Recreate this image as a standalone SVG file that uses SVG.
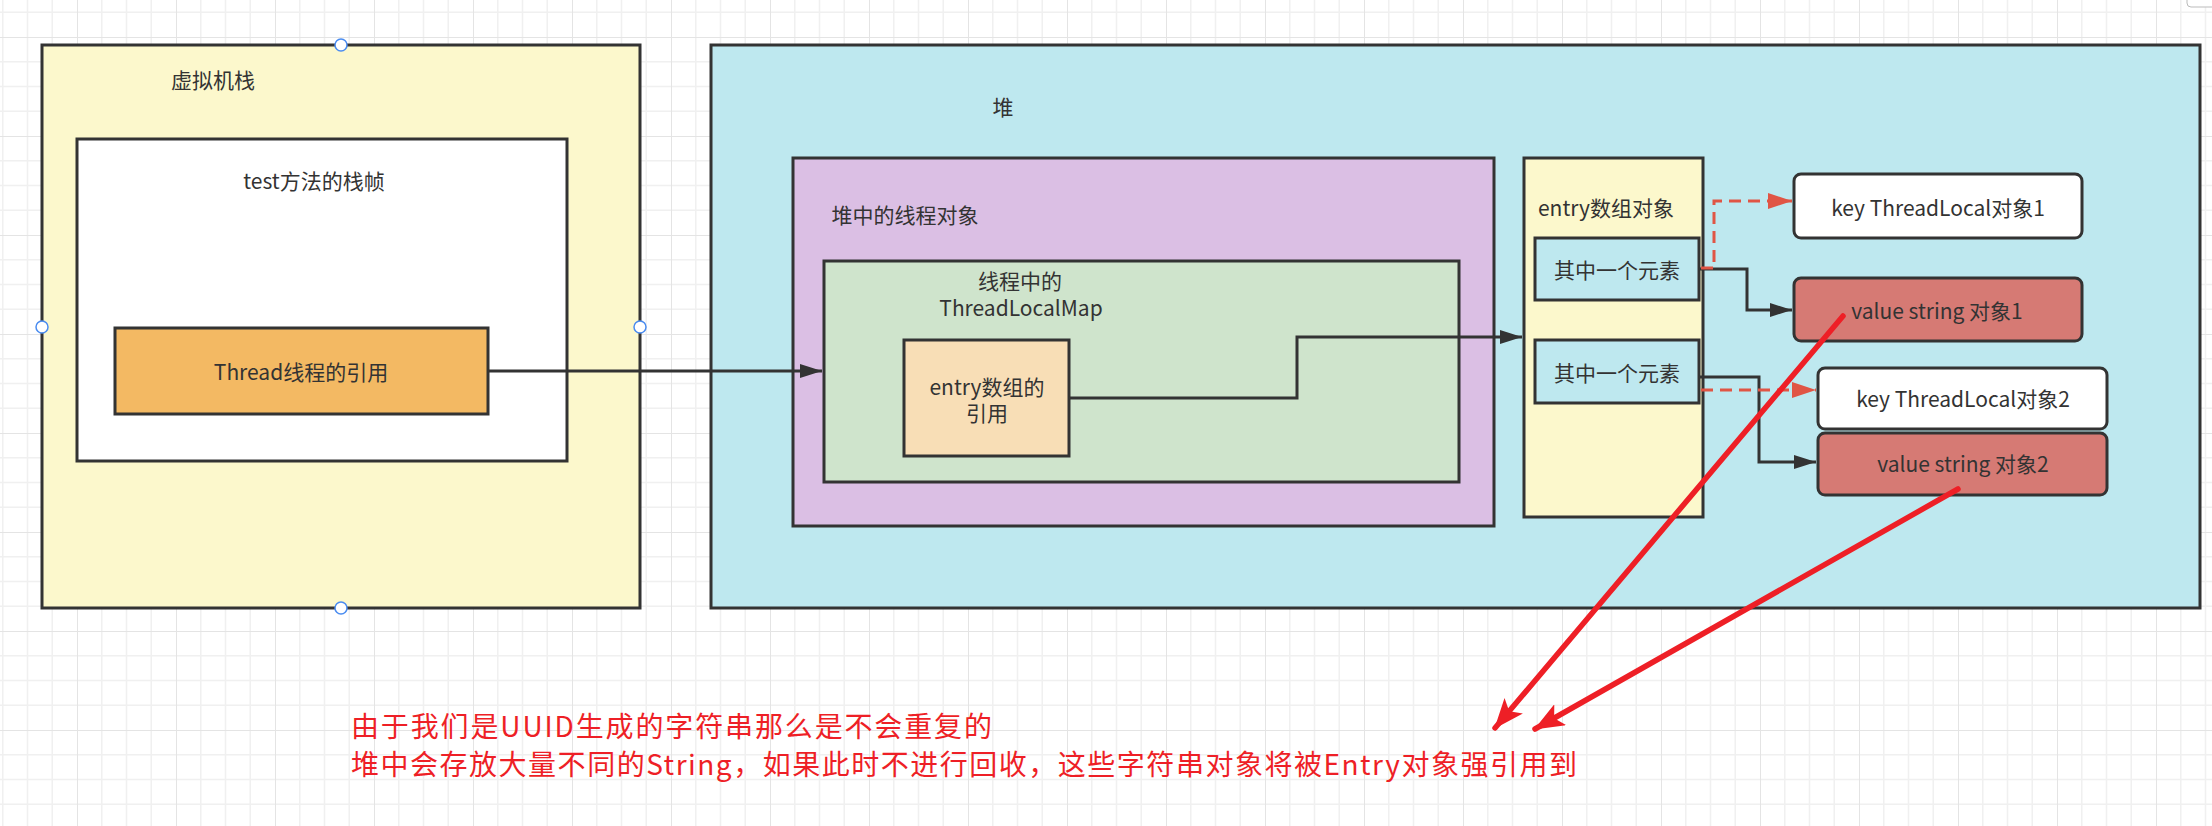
<svg xmlns="http://www.w3.org/2000/svg" width="2212" height="826" viewBox="0 0 2212 826">
<style>
  .box { stroke: #333333; stroke-width: 3; }
  .lbl { font-family: "Noto Sans CJK SC", "Noto Sans", sans-serif; font-size: 21px; fill: #333333; text-anchor: middle; dominant-baseline: central; }
  .conn { fill: none; stroke: #333333; stroke-width: 3; }
  .dash { fill: none; stroke: #e05545; stroke-width: 3; stroke-dasharray: 12 7; }
  .red { fill: none; stroke: #ee1f26; stroke-width: 5.5; stroke-linecap: round; }
  .note { font-family: "Noto Sans CJK SC", sans-serif; font-size: 28px; fill: #ee1f26; dominant-baseline: central; }
  .handle { fill: #ffffff; stroke: #4a8cf0; stroke-width: 1.5; }
</style>
<defs>
  <pattern id="grid" patternUnits="userSpaceOnUse" x="77" y="37" width="99" height="99">
    <rect x="0" y="0" width="99" height="99" fill="#ffffff"/>
    <path d="M24.75 0V99M49.5 0V99M74.25 0V99M0 24.75H99M0 49.5H99M0 74.25H99" stroke="#f0f0f0" stroke-width="1.5" fill="none"/>
    <path d="M0 0V99M0 0H99" stroke="#e4e4e4" stroke-width="2" fill="none"/>
  </pattern>
  <marker id="arrBlack" viewBox="0 0 22 14" refX="22" refY="7" markerWidth="22" markerHeight="14" markerUnits="userSpaceOnUse" orient="auto">
    <path d="M0 0L22 7L0 14z" fill="#333333"/>
  </marker>
  <marker id="arrDash" viewBox="0 0 24 16" refX="24" refY="8" markerWidth="24" markerHeight="16" markerUnits="userSpaceOnUse" orient="auto">
    <path d="M0 0L24 8L0 16z" fill="#e05545"/>
  </marker>
  <marker id="arrRed" viewBox="0 0 30 24" refX="29" refY="12" markerWidth="30" markerHeight="24" markerUnits="userSpaceOnUse" orient="auto">
    <path d="M0 0L30 12L0 24L7 12z" fill="#ee1f26"/>
  </marker>
</defs>

<rect x="0" y="0" width="2212" height="826" fill="url(#grid)"/>
<rect x="2187" y="-10" width="40" height="17" rx="4" fill="#ffffff" stroke="#bbbbbb" stroke-width="1"/>

<g id="vm-stack">
  <rect class="box" x="42" y="45" width="598" height="563" fill="#fcf8cc"/>
  <text class="lbl" x="213" y="79">虚拟机栈</text>
</g>
<g id="stack-frame">
  <rect class="box" x="77" y="139" width="490" height="322" fill="#ffffff"/>
  <text class="lbl" x="314" y="180">test方法的栈帧</text>
</g>
<g id="thread-ref">
  <rect class="box" x="115" y="328" width="373" height="86" fill="#f3b963"/>
  <text class="lbl" x="301" y="371">Thread线程的引用</text>
</g>

<g id="heap">
  <rect class="box" x="711" y="45" width="1489" height="563" fill="#bee8ef"/>
  <text class="lbl" x="1003" y="106">堆</text>
</g>
<g id="thread-object">
  <rect class="box" x="793" y="158" width="701" height="368" fill="#dbbfe4"/>
  <text class="lbl" x="905" y="214">堆中的线程对象</text>
</g>
<g id="threadlocalmap">
  <rect class="box" x="824" y="261" width="635" height="221" fill="#cfe4cc"/>
  <text class="lbl" x="1020" y="280">线程中的</text>
  <text class="lbl" x="1021" y="307">ThreadLocalMap</text>
</g>
<g id="entry-ref">
  <rect class="box" x="904" y="340" width="165" height="116" fill="#f8deb6"/>
  <text class="lbl" x="987" y="386">entry数组的</text>
  <text class="lbl" x="987" y="412">引用</text>
</g>
<g id="entry-array">
  <rect class="box" x="1524" y="158" width="179" height="359" fill="#fcf8cc"/>
  <text class="lbl" x="1606" y="207">entry数组对象</text>
</g>
<g id="element1">
  <rect class="box" x="1535" y="238" width="164" height="62" fill="#bee8ef"/>
  <text class="lbl" x="1617" y="269">其中一个元素</text>
</g>
<g id="element2">
  <rect class="box" x="1535" y="340" width="164" height="63" fill="#bee8ef"/>
  <text class="lbl" x="1617" y="372">其中一个元素</text>
</g>
<g id="key1">
  <rect class="box" x="1794" y="174" width="288" height="64" rx="7" fill="#ffffff"/>
  <text class="lbl" x="1938" y="207">key ThreadLocal对象1</text>
</g>
<g id="value1">
  <rect class="box" x="1794" y="278" width="288" height="63" rx="7" fill="#d67a74"/>
  <text class="lbl" x="1937" y="310">value string 对象1</text>
</g>
<g id="key2">
  <rect class="box" x="1818" y="368" width="289" height="61" rx="7" fill="#ffffff"/>
  <text class="lbl" x="1963" y="398">key ThreadLocal对象2</text>
</g>
<g id="value2">
  <rect class="box" x="1818" y="433" width="289" height="62" rx="7" fill="#d67a74"/>
  <text class="lbl" x="1963" y="463">value string 对象2</text>
</g>

<g id="connectors">
  <path class="conn" d="M488 371H822" marker-end="url(#arrBlack)"/>
  <path class="conn" d="M1069 398H1297V337H1522" marker-end="url(#arrBlack)"/>
  <path class="conn" d="M1699 269H1747V310H1792" marker-end="url(#arrBlack)"/>
  <path class="conn" d="M1699 377H1759V462H1816" marker-end="url(#arrBlack)"/>
  <path class="dash" d="M1701 268H1714V201H1792" marker-end="url(#arrDash)"/>
  <path class="dash" d="M1701 390H1816" marker-end="url(#arrDash)"/>
  <path class="red" d="M1843 316L1495 728" marker-end="url(#arrRed)"/>
  <path class="red" d="M1958 489L1535 729" marker-end="url(#arrRed)"/>
</g>

<g id="handles">
  <circle class="handle" cx="341" cy="45" r="6"/>
  <circle class="handle" cx="42" cy="327" r="6"/>
  <circle class="handle" cx="640" cy="327" r="6"/>
  <circle class="handle" cx="341" cy="608" r="6"/>
</g>

<g id="note">
  <text class="note" x="351" y="725" textLength="641">由于我们是UUID生成的字符串那么是不会重复的</text>
  <text class="note" x="351" y="763" textLength="1226">堆中会存放大量不同的String，如果此时不进行回收，这些字符串对象将被Entry对象强引用到</text>
</g>
</svg>
